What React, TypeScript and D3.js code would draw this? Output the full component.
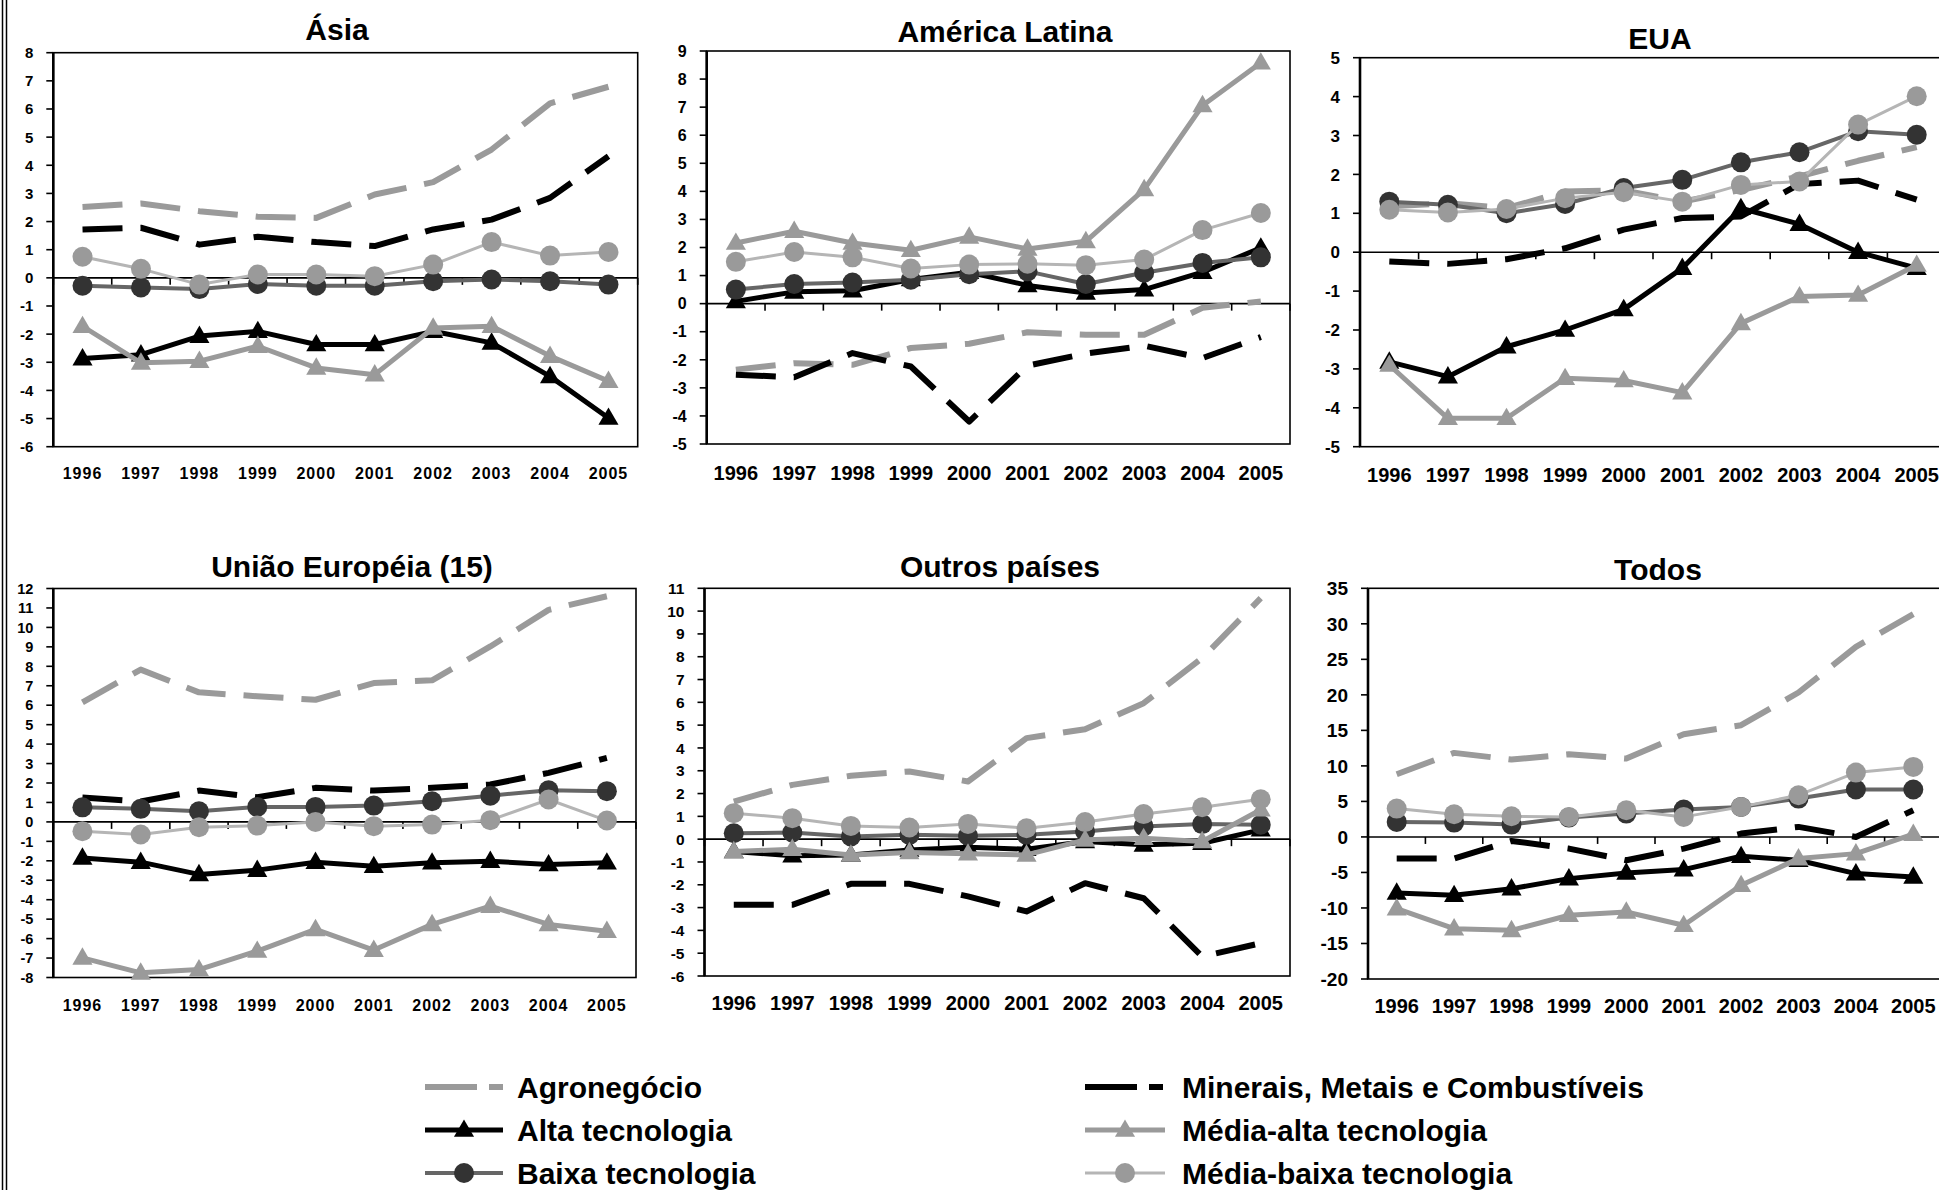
import React from 'react';
import * as d3 from 'd3';

const years = ['1996', '1997', '1998', '1999', '2000', '2001', '2002', '2003', '2004', '2005'];

// drawing order: agro, minerais, alta, baixa, media-baixa, media-alta
const seriesKeys = ['agro', 'minerais', 'alta', 'baixa', 'mediaBaixa', 'mediaAlta'];

// Ásia
const asiaAgro = [2.52, 2.64, 2.37, 2.17, 2.13, 2.96, 3.4, 4.56, 6.2, 6.79];
const asiaMinerais = [1.72, 1.78, 1.18, 1.46, 1.27, 1.13, 1.72, 2.07, 2.84, 4.32];
const asiaAlta = [-2.87, -2.73, -2.07, -1.9, -2.37, -2.37, -1.9, -2.31, -3.5, -4.98];
const asiaMediaAlta = [-1.72, -3.02, -2.96, -2.43, -3.2, -3.44, -1.78, -1.72, -2.78, -3.67];
const asiaBaixa = [-0.28, -0.34, -0.4, -0.22, -0.28, -0.28, -0.12, -0.06, -0.12, -0.24];
const asiaMediaBaixa = [0.75, 0.32, -0.24, 0.12, 0.12, 0.06, 0.47, 1.27, 0.79, 0.92];

// América Latina
const latAgro = [-2.35, -2.12, -2.18, -1.58, -1.43, -1.02, -1.11, -1.11, -0.15, 0.08];
const latMinerais = [-2.53, -2.62, -1.76, -2.24, -4.2, -2.21, -1.78, -1.5, -1.94, -1.19];
const latAlta = [0.08, 0.42, 0.46, 0.86, 1.12, 0.65, 0.38, 0.5, 1.12, 1.99];
const latMediaAlta = [2.16, 2.58, 2.16, 1.9, 2.38, 1.95, 2.22, 4.07, 7.06, 8.58];
const latBaixa = [0.5, 0.7, 0.75, 0.85, 1.05, 1.15, 0.7, 1.1, 1.45, 1.65];
const latMediaBaixa = [1.49, 1.84, 1.65, 1.25, 1.39, 1.42, 1.37, 1.57, 2.62, 3.23];

// EUA
const euaAgro = [1.18, 1.26, 1.13, 1.56, 1.59, 1.3, 1.6, 1.95, 2.35, 2.7];
const euaMinerais = [-0.24, -0.3, -0.18, 0.1, 0.58, 0.88, 0.92, 1.75, 1.84, 1.35];
const euaAlta = [-2.82, -3.2, -2.43, -2.0, -1.47, -0.41, 1.13, 0.72, 0.0, -0.41];
const euaMediaAlta = [-2.9, -4.27, -4.27, -3.24, -3.3, -3.61, -1.83, -1.14, -1.1, -0.33];
const euaBaixa = [1.3, 1.22, 1.0, 1.24, 1.65, 1.86, 2.31, 2.57, 3.11, 3.02];
const euaMediaBaixa = [1.09, 1.02, 1.11, 1.39, 1.54, 1.3, 1.73, 1.82, 3.28, 4.01];

// União Européia (15)
const ueAgro = [6.15, 7.83, 6.66, 6.46, 6.28, 7.14, 7.28, 9.02, 10.9, 11.6];
const ueMinerais = [1.25, 1.05, 1.61, 1.27, 1.75, 1.61, 1.75, 1.92, 2.52, 3.29];
const ueAlta = [-1.85, -2.07, -2.7, -2.48, -2.07, -2.28, -2.1, -2.02, -2.19, -2.1];
const ueMediaAlta = [-6.99, -7.76, -7.59, -6.64, -5.53, -6.59, -5.27, -4.33, -5.27, -5.62];
const ueBaixa = [0.75, 0.67, 0.55, 0.77, 0.77, 0.84, 1.06, 1.35, 1.63, 1.58];
const ueMediaBaixa = [-0.48, -0.65, -0.27, -0.19, 0.0, -0.22, -0.14, 0.09, 1.15, 0.07];

// Outros países
const outAgro = [1.65, 2.38, 2.78, 2.97, 2.53, 4.43, 4.82, 5.96, 7.94, 10.57];
const outMinerais = [-2.88, -2.88, -1.96, -1.96, -2.51, -3.17, -1.93, -2.59, -5.15, -4.56];
const outAlta = [-0.54, -0.73, -0.69, -0.47, -0.35, -0.44, -0.1, -0.25, -0.18, 0.41];
const outMediaAlta = [-0.54, -0.44, -0.69, -0.58, -0.64, -0.69, -0.03, 0.04, -0.1, 1.29];
const outBaixa = [0.26, 0.29, 0.12, 0.19, 0.15, 0.19, 0.34, 0.56, 0.66, 0.63];
const outMediaBaixa = [1.14, 0.92, 0.58, 0.51, 0.67, 0.48, 0.75, 1.1, 1.4, 1.75];

// Todos
const todosAgro = [8.83, 11.83, 10.89, 11.64, 11.03, 14.46, 15.73, 20.33, 26.76, 31.36];
const todosMinerais = [-3.05, -3.05, -0.56, -1.64, -3.29, -1.64, 0.47, 1.41, 0.0, 3.76];
const todosAlta = [-7.89, -8.22, -7.28, -5.87, -5.07, -4.6, -2.72, -3.29, -5.16, -5.63];
const todosMediaAlta = [-10.09, -12.91, -13.15, -11.03, -10.56, -12.44, -6.81, -3.05, -2.35, 0.38];
const todosBaixa = [2.11, 2.02, 1.74, 2.72, 3.29, 3.85, 4.23, 5.4, 6.67, 6.67];
const todosMediaBaixa = [3.99, 3.19, 2.91, 2.82, 3.76, 2.82, 4.23, 5.87, 9.06, 9.86];

const legendLeft = ['Agronegócio', 'Alta tecnologia', 'Baixa tecnologia'];
const legendRight = ['Minerais, Metais e Combustíveis', 'Média-alta tecnologia', 'Média-baixa tecnologia'];

const FONT = "'Liberation Sans', Arial, Helvetica, sans-serif";

const styles: any = {
  agro: { stroke: '#9a9a9a', width: 6, dash: '40 18', marker: null, fill: null },
  minerais: { stroke: '#000', width: 6, dash: '40 18', marker: null, fill: null },
  alta: { stroke: '#000', width: 5, dash: null, marker: 'tri', fill: '#000' },
  mediaAlta: { stroke: '#9a9a9a', width: 5, dash: null, marker: 'tri', fill: '#9a9a9a' },
  baixa: { stroke: '#666', width: 4, dash: null, marker: 'circle', fill: '#333' },
  mediaBaixa: { stroke: '#b5b5b5', width: 3, dash: null, marker: 'circle', fill: '#9a9a9a' },
};

const triPath = d3.symbol().type(d3.symbolTriangle).size(175)() as string;

function Marker({ kind, fill, cx, cy }: any) {
  if (kind === 'circle') return <circle cx={cx} cy={cy} r={10} fill={fill} />;
  if (kind === 'tri') return <path d={triPath} transform={`translate(${cx},${cy + 1})`} fill={fill} />;
  return null;
}

const panels = [
  { title: 'Ásia', tx: 337, ty: 40, x0: 53.3, x1: 637.7, top: 52.7, bottom: 446.7, domain: [-6, 8], step: 1, yFont: 15, xFont: 16, xSpacing: 1, xLabelY: 479,
    data: [asiaAgro, asiaMinerais, asiaAlta, asiaBaixa, asiaMediaBaixa, asiaMediaAlta] },
  { title: 'América Latina', tx: 1005, ty: 42, x0: 706.7, x1: 1290, top: 51, bottom: 444, domain: [-5, 9], step: 1, yFont: 16, xFont: 20, xSpacing: 0, xLabelY: 480,
    data: [latAgro, latMinerais, latAlta, latBaixa, latMediaBaixa, latMediaAlta] },
  { title: 'EUA', tx: 1660, ty: 49, x0: 1360, x1: 1946, top: 57.7, bottom: 446.7, domain: [-5, 5], step: 1, yFont: 17, xFont: 20, xSpacing: 0, xLabelY: 482,
    data: [euaAgro, euaMinerais, euaAlta, euaBaixa, euaMediaBaixa, euaMediaAlta] },
  { title: 'União Européia (15)', tx: 352, ty: 577, x0: 53.3, x1: 636, top: 588.5, bottom: 977.5, domain: [-8, 12], step: 1, yFont: 14.5, xFont: 16, xSpacing: 1, xLabelY: 1011,
    data: [ueAgro, ueMinerais, ueAlta, ueBaixa, ueMediaBaixa, ueMediaAlta] },
  { title: 'Outros países', tx: 1000, ty: 577, x0: 704.5, x1: 1290, top: 588.3, bottom: 976, domain: [-6, 11], step: 1, yFont: 15.5, xFont: 20, xSpacing: 0, xLabelY: 1010,
    data: [outAgro, outMinerais, outAlta, outBaixa, outMediaBaixa, outMediaAlta] },
  { title: 'Todos', tx: 1658, ty: 580, x0: 1368, x1: 1942, top: 588.3, bottom: 979, domain: [-20, 35], step: 5, yFont: 19, xFont: 20, xSpacing: 0, xLabelY: 1013,
    data: [todosAgro, todosMinerais, todosAlta, todosBaixa, todosMediaBaixa, todosMediaAlta] },
];

function Panel({ p }: any) {
  const x = d3.scaleBand().domain(years).range([p.x0, p.x1]).padding(0);
  const y = d3.scaleLinear().domain(p.domain).range([p.bottom, p.top]);
  const cx = (i: number) => (x(years[i]) as number) + x.bandwidth() / 2;
  const ticks = d3.range(p.domain[0], p.domain[1] + p.step / 2, p.step);
  const line = d3.line<number>().x((_, i) => cx(i)).y(d => y(d));
  const y0 = y(0);

  return (
    <g>
      <text x={p.tx} y={p.ty} textAnchor="middle" fontFamily={FONT} fontWeight="bold" fontSize={30}>{p.title}</text>
      <rect x={p.x0} y={p.top} width={p.x1 - p.x0} height={p.bottom - p.top} fill="none" stroke="#000" strokeWidth={1.6} />
      <line x1={p.x0} x2={p.x0} y1={p.top} y2={p.bottom} stroke="#000" strokeWidth={2.6} />
      {ticks.map(t => (
        <g key={t}>
          <line x1={p.x0 - 7} x2={p.x0} y1={y(t)} y2={y(t)} stroke="#000" strokeWidth={1.6} />
          <text x={p.x0 - 20} y={y(t)} dy="0.36em" textAnchor="end" fontFamily={FONT} fontWeight="bold" fontSize={p.yFont}>{t}</text>
        </g>
      ))}
      <line x1={p.x0} x2={p.x1} y1={y0} y2={y0} stroke="#000" strokeWidth={1.6} />
      {d3.range(years.length + 1).map(i => {
        const bx = p.x0 + i * x.bandwidth();
        return <line key={i} x1={bx} x2={bx} y1={y0} y2={y0 + 7} stroke="#000" strokeWidth={1.6} />;
      })}
      {years.map((yr, i) => (
        <text key={yr} x={cx(i)} y={p.xLabelY} textAnchor="middle" fontFamily={FONT} fontWeight="bold"
          fontSize={p.xFont} letterSpacing={p.xSpacing}>{yr}</text>
      ))}
      {p.data.map((vals: number[], si: number) => {
        const st = styles[seriesKeys[si]];
        return (
          <g key={si}>
            <path d={line(vals) as string} fill="none" stroke={st.stroke} strokeWidth={st.width}
              strokeDasharray={st.dash || undefined} strokeLinejoin="round" />
            {st.marker && vals.map((v, i) => <Marker key={i} kind={st.marker} fill={st.fill} cx={cx(i)} cy={y(v)} />)}
          </g>
        );
      })}
    </g>
  );
}

function LegendItem({ k, label, x0, x1, tx, cy }: any) {
  const st = styles[k];
  return (
    <g>
      <line x1={x0} x2={x1} y1={cy} y2={cy} stroke={st.stroke} strokeWidth={st.width}
        strokeDasharray={st.dash ? '52 12 14 100' : undefined} />
      {st.marker && <Marker kind={st.marker} fill={st.fill} cx={(x0 + x1) / 2} cy={cy} />}
      <text x={tx} y={cy} dy="0.36em" fontFamily={FONT} fontWeight="bold" fontSize={30}>{label}</text>
    </g>
  );
}

export default function App() {
  const rows = [1087, 1130, 1173];
  const leftKeys = ['agro', 'alta', 'baixa'];
  const rightKeys = ['minerais', 'mediaAlta', 'mediaBaixa'];
  return (
    <svg width={1939} height={1190} style={{ position: 'fixed', left: 0, top: 0, background: '#fff' }}>
      <rect x={0} y={0} width={1939} height={1190} fill="#fff" />
      <line x1={2.5} x2={2.5} y1={0} y2={1190} stroke="#000" strokeWidth={1.5} />
      <line x1={6.5} x2={6.5} y1={0} y2={1190} stroke="#000" strokeWidth={1.5} />
      {panels.map(p => <Panel key={p.title} p={p} />)}
      {legendLeft.map((lab, i) => (
        <LegendItem key={lab} k={leftKeys[i]} label={lab} x0={425} x1={503} tx={517} cy={rows[i]} />
      ))}
      {legendRight.map((lab, i) => (
        <LegendItem key={lab} k={rightKeys[i]} label={lab} x0={1085} x1={1165} tx={1182} cy={rows[i]} />
      ))}
    </svg>
  );
}
